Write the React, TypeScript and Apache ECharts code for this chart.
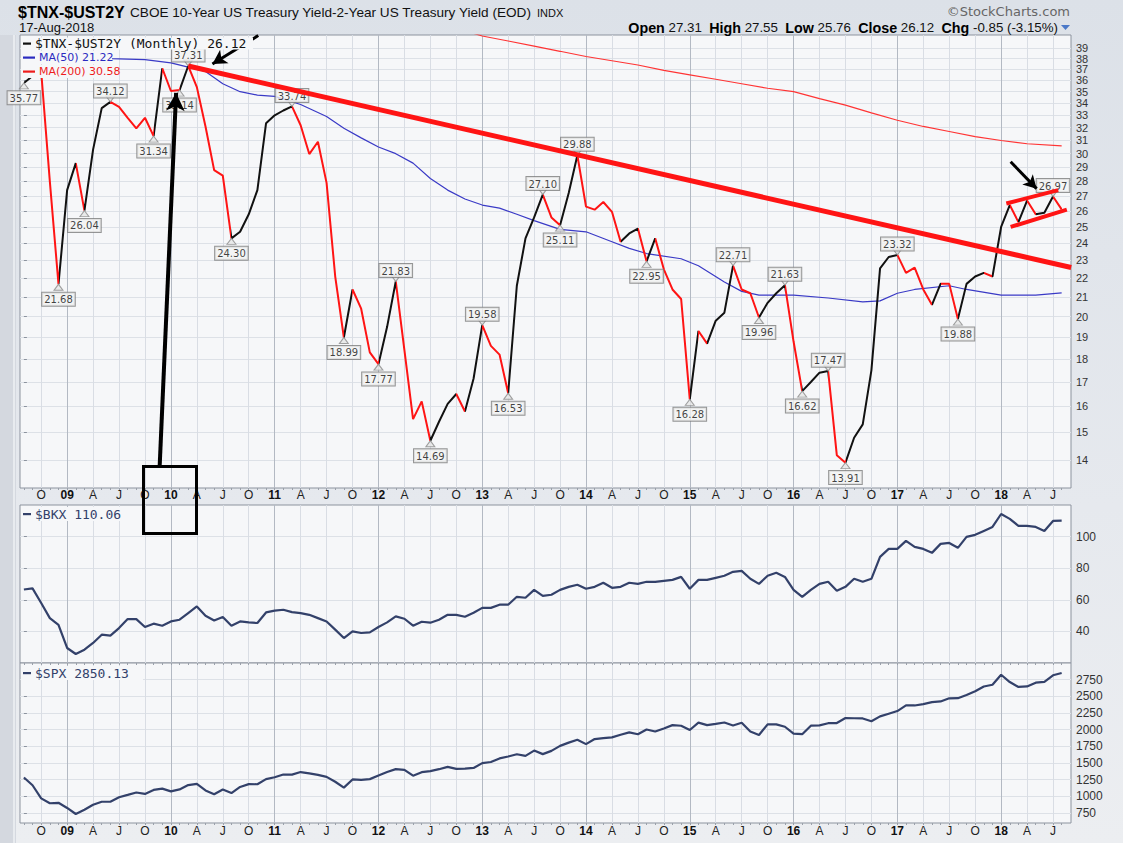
import React, { useEffect, useRef } from "react";
import * as echarts from "echarts";

// ---------------- data ----------------
const START_YEAR = 2008;
const START_MONTH = 7; // August (0-based), first monthly point
const MONTHS = 121;

// $TNX-$UST2Y monthly closes, Aug 2008 .. Aug 2018
const spread = [
  35.77, 36.4, 36.8, 28.0, 21.68, 27.4, 29.3, 26.04, 30.3, 33.6,
  34.12, 33.7, 32.8, 31.95, 32.8, 31.34, 37.1, 35.06, 35.14, 37.31,
  35.4, 32.1, 28.8, 28.4, 24.3, 24.7, 25.8, 27.4, 32.35, 33.0,
  33.4, 33.74, 32.2, 29.97, 30.9, 27.9, 22.1, 18.99, 21.4, 20.4,
  18.3, 17.77, 19.5, 21.83, 18.4, 15.5, 16.2, 14.69, 15.4, 16.1,
  16.5, 15.8, 17.15, 19.58, 18.6, 18.2, 16.53, 21.6, 24.3, 25.6,
  27.1, 25.6, 25.11, 27.2, 29.88, 26.3, 26.1, 26.6, 25.96, 24.1,
  24.6, 24.9, 22.95, 24.3, 22.5, 21.4, 20.9, 16.28, 19.3, 18.7,
  19.8, 20.2, 22.71, 21.4, 21.2, 19.96, 20.7, 21.2, 21.63, 18.8,
  16.62, 17.0, 17.4, 17.47, 14.17, 13.91, 14.8, 15.3, 17.5, 22.55,
  23.2, 23.32, 22.3, 22.6, 21.4, 20.6, 21.7, 21.7, 19.88, 21.7,
  22.1, 22.3, 22.1, 25.0, 26.4, 25.3, 26.7, 25.8, 25.9, 26.97,
  26.12,
];
// colour of each segment (k = black, r = red) as seen in the picture
const segmentColors = (
  "kkrrkkrkkk rrrrrkrrkr rrrrkkkkkk krrrrrrkrr rkkrrrrkkk " +
  "rkkrrrkkkk rrkkrrrrrk krkrrrrkrk kkrrrkkkrr kkkrrkkkkk " +
  "krrrrkrrkk krkkrkrkkr"
).replace(/\s/g, "");
const peaks = [10, 19, 31, 43, 53, 60, 64, 82, 88, 93, 101, 119];
const troughs = [0, 4, 7, 15, 18, 24, 37, 41, 47, 56, 62, 72, 77, 85, 90, 95, 108];

// moving averages, read at sample months [monthIndex, value]
const ma50 = [
  [0, 38.4], [5, 38.2], [10, 38.0], [14, 37.9], [17, 37.6], [19, 37.2], [21, 36.8],
  [23, 35.7], [25, 35.0], [27, 34.7], [29, 34.6], [32, 33.9], [35, 32.9], [37, 31.95],
  [39, 31.2], [41, 30.5], [43, 30.0], [45, 29.3], [47, 28.2], [49, 27.4], [51, 26.8],
  [53, 26.4], [55, 26.2], [57, 25.8], [59, 25.4], [62, 24.85], [65, 24.7], [68, 24.1],
  [70, 23.7], [72, 23.4], [76, 23.1], [78, 22.7], [81, 21.8], [83, 21.3], [85, 21.1],
  [89, 21.1], [93, 20.95], [97, 20.75], [99, 20.8], [101, 21.2], [103, 21.4],
  [107, 21.6], [109, 21.4], [113, 21.1], [117, 21.1], [120, 21.22],
];
const ma200 = [
  [50, 41.0], [53, 40.2], [56, 39.7], [59, 39.2], [62, 38.7], [65, 38.2], [68, 37.8],
  [71, 37.4], [74, 36.9], [77, 36.5], [80, 36.1], [83, 35.7], [86, 35.3], [89, 35.0],
  [92, 34.4], [95, 33.85], [98, 33.2], [101, 32.6], [104, 32.1], [107, 31.7],
  [110, 31.3], [113, 31.0], [116, 30.75], [120, 30.58],
];

// $BKX monthly closes
const bkx = [
  66.5, 67.2, 58.0, 48.4, 44.2, 29.5, 25.7, 28.4, 32.7, 37.9,
  37.3, 42.1, 47.8, 47.8, 42.8, 44.9, 43.6, 46.3, 47.4, 51.6,
  55.8, 49.9, 46.9, 49.1, 43.6, 46.3, 45.7, 45.3, 52.0, 53.1,
  53.7, 52.2, 51.6, 50.5, 48.4, 46.3, 41.1, 35.8, 40.0, 39.0,
  39.4, 42.8, 45.7, 49.5, 48.0, 43.6, 46.1, 45.5, 47.4, 50.5,
  50.5, 49.3, 51.8, 54.9, 54.9, 56.9, 56.9, 61.9, 61.3, 66.3,
  62.5, 63.2, 66.3, 68.2, 69.5, 67.0, 68.2, 70.8, 67.6, 68.2,
  70.8, 70.1, 71.4, 71.4, 72.0, 72.6, 74.5, 67.0, 72.6, 72.6,
  73.9, 75.2, 77.7, 78.3, 73.3, 70.1, 75.2, 77.1, 74.5, 66.3,
  61.9, 66.3, 70.1, 71.4, 65.7, 68.2, 73.3, 71.4, 73.3, 87.2,
  92.2, 92.2, 97.3, 93.5, 92.2, 89.7, 95.4, 96.0, 92.9, 99.8,
  101.1, 103.6, 106.1, 114.3, 111.2, 106.8, 106.8, 106.1, 103.6, 109.9,
  110.06,
];

// $SPX monthly closes
const spx = [
  1283, 1166, 969, 896, 903, 826, 735, 798, 873, 919,
  919, 987, 1021, 1057, 1036, 1096, 1115, 1074, 1104, 1169,
  1187, 1089, 1031, 1102, 1049, 1141, 1183, 1181, 1258, 1286,
  1327, 1326, 1364, 1345, 1321, 1292, 1219, 1131, 1253, 1247,
  1258, 1312, 1366, 1408, 1398, 1310, 1362, 1379, 1407, 1441,
  1412, 1416, 1426, 1498, 1515, 1569, 1598, 1631, 1606, 1686,
  1633, 1682, 1757, 1806, 1848, 1783, 1859, 1872, 1884, 1924,
  1960, 1931, 2003, 1972, 2018, 2068, 2059, 1995, 2105, 2068,
  2086, 2107, 2063, 2104, 1972, 1920, 2079, 2080, 2044, 1940,
  1932, 2060, 2065, 2097, 2099, 2174, 2171, 2168, 2126, 2199,
  2239, 2279, 2364, 2363, 2384, 2412, 2423, 2470, 2472, 2519,
  2575, 2648, 2674, 2824, 2714, 2641, 2648, 2705, 2718, 2816,
  2850.13,
];

const spreadTicks = [14, 15, 16, 17, 18, 19, 20, 21, 22, 23, 24, 25, 26, 27, 28, 29, 30, 31, 32, 33, 34, 35, 36, 37, 38, 39];
const bkxTicks = [40, 60, 80, 100];
const spxTicks = [750, 1000, 1250, 1500, 1750, 2000, 2250, 2500, 2750];

// hand-drawn annotations (month index, value)
const trendLine = [[19, 37.31], [121.1, 22.6]];
const channelUpper = [[113.6, 26.5], [119.6, 27.4]];
const channelLower = [[114.1, 25.0], [120.6, 26.1]];
const arrows = [
  { from: [27.1, 40.25], to: [21.8, 37.5], width: 3, head: [12, 14] },
  { from: [15.7, 13.79], to: [17.6, 34.9], width: 4, head: [14, 18] },
  { from: [114.1, 29.4], to: [117.1, 27.5], width: 3, head: [11, 13] },
];

// ---------------- styling ----------------
const RED = "#ff1414";
const BLACK = "#111111";
const NAVY = "#33416a";
const PLOT_BG = "#f6f7f9";
const GRID_LIGHT = "#d9dde4";
const GRID_DARK = "#b3b9c3";
const SANS = '"Liberation Sans", Arial, sans-serif';
const VERDANA = '"DejaVu Sans", Verdana, sans-serif';
const MONO = '"DejaVu Sans Mono", monospace';
const X_MIN = -0.45;
const X_MAX = 121.08;

function monthInfo(i: number) {
  const t = START_MONTH + i;
  return { m: t % 12, y: START_YEAR + Math.floor(t / 12) };
}
const allIdx = Array.from({ length: MONTHS }, (_, i) => i);
const quarterIdx = allIdx.filter((i) => monthInfo(i).m % 3 === 0);

function xLabel(v: number) {
  const { m, y } = monthInfo(Math.round(v));
  if (m === 0) return "{b|" + String(y % 100).padStart(2, "0") + "}";
  if (m === 3) return "A";
  if (m === 6) return "J";
  return "O";
}

const L = Math.log;

function buildOption(): any {
  const grids = [
    { left: 20, top: 35, width: 1051, height: 453 },
    { left: 20, top: 505, width: 1051, height: 158 },
    { left: 20, top: 663, width: 1051, height: 160 },
  ].map((g) => ({ ...g, show: true, backgroundColor: PLOT_BG, borderColor: "#8c939e", borderWidth: 1 }));

  const xAxes: any[] = [];
  [0, 1, 2].forEach((g) => {
    xAxes.push({
      type: "value", gridIndex: g, min: X_MIN, max: X_MAX, position: "bottom",
      axisLine: { show: false },
      axisTick: { show: false, customValues: quarterIdx },
      axisLabel: {
        show: g !== 1, customValues: quarterIdx, formatter: xLabel, margin: g === 0 ? 1 : 2,
        hideOverlap: false, color: "#222", fontSize: 12, fontFamily: SANS,
        rich: { b: { fontWeight: "bold", fontSize: 12, fontFamily: SANS, color: "#111" } },
      },
      splitLine: { show: true, lineStyle: { color: [GRID_LIGHT, GRID_DARK, GRID_LIGHT, GRID_LIGHT], width: 1 } },
    });
    xAxes.push({
      type: "value", gridIndex: g, min: X_MIN, max: X_MAX, position: "bottom",
      axisLine: { show: false }, axisLabel: { show: false }, splitLine: { show: false },
      axisTick: { show: true, customValues: allIdx, length: 2, inside: false, lineStyle: { color: "#9aa0aa" } },
    });
  });

  const yAxis = (
    g: number, tickVals: number[], labelVals: number[], min: number, max: number,
    fmt: (v: number) => string, fs: number, lines: boolean,
  ) => ({
    type: "value", gridIndex: g, position: "right", min, max,
    axisLine: { show: false },
    axisTick: { show: lines, customValues: tickVals, length: 3, inside: false, lineStyle: { color: "#8c939e" } },
    axisLabel: {
      customValues: labelVals, formatter: fmt, margin: 5, color: "#333", fontSize: fs, lineHeight: fs,
      fontFamily: SANS, hideOverlap: false, showMinLabel: true, showMaxLabel: true,
    },
    splitLine: { show: lines, lineStyle: { color: "#dde1e7", width: 1 } },
  });

  const spreadFmt = (v: number) => String(Math.round(Math.exp(v)));
  const evenTicks = spreadTicks.filter((t) => t % 2 === 0).map(L);
  const oddTicks = spreadTicks.filter((t) => t % 2 === 1).map(L);
  const yAxes = [
    yAxis(0, spreadTicks.map(L), evenTicks, L(13.06), L(40.3), spreadFmt, 11, true),
    yAxis(1, bkxTicks, bkxTicks, 20, 120, (v) => String(v), 12, true),
    yAxis(2, spxTicks, spxTicks, 600, 3000, (v) => String(v), 12, true),
    yAxis(0, oddTicks, oddTicks, L(13.06), L(40.3), spreadFmt, 11, false),
  ];

  const pieces = segmentColors.split("").map((c, i) => {
    const piece: any = { gte: i, color: c === "k" ? BLACK : RED };
    if (i === segmentColors.length - 1) piece.lte = i + 1;
    else piece.lt = i + 1;
    return piece;
  });

  const labelStyle = {
    show: true, distance: 0, fontSize: 10, fontFamily: VERDANA, color: "#111",
    backgroundColor: "#f3f3f3", borderColor: "#7c7c7c", borderWidth: 1, padding: [2, 2, 1, 2],
    offset: [0, 2],
    formatter: (p: any) => p.value[2].toFixed(2),
  };

  const series: any[] = [
    {
      name: "$TNX-$UST2Y", type: "line", xAxisIndex: 0, yAxisIndex: 0, z: 3,
      data: spread.map((v, i) => [i, L(v)]), symbol: "none", lineStyle: { width: 2 }, silent: true,
    },
    {
      name: "MA(50)", type: "line", xAxisIndex: 0, yAxisIndex: 0, z: 2, symbol: "none", silent: true,
      data: ma50.map(([i, v]) => [i, L(v)]), lineStyle: { width: 1.2, color: "#3a3ac6" }, itemStyle: { color: "#3a3ac6" },
    },
    {
      name: "MA(200)", type: "line", xAxisIndex: 0, yAxisIndex: 0, z: 2, symbol: "none", silent: true,
      data: ma200.map(([i, v]) => [i, L(v)]), lineStyle: { width: 1.2, color: "#ff3434" }, itemStyle: { color: "#ff3434" },
    },
    {
      name: "highs", type: "scatter", xAxisIndex: 0, yAxisIndex: 0, z: 4, silent: true,
      data: peaks.map((i) => [i, L(spread[i]), spread[i]]),
      symbol: "path://M0,0L10,0L5,7Z", symbolSize: [9, 6], symbolOffset: [0, -3],
      itemStyle: { color: "#e6e6e6", borderColor: "#8a8a8a", borderWidth: 1 },
      label: { ...labelStyle, position: "top" },
    },
    {
      name: "lows", type: "scatter", xAxisIndex: 0, yAxisIndex: 0, z: 4, silent: true,
      data: troughs.map((i) => [i, L(spread[i]), spread[i]]),
      symbol: "triangle", symbolSize: [9, 6], symbolOffset: [0, 3],
      itemStyle: { color: "#e6e6e6", borderColor: "#8a8a8a", borderWidth: 1 },
      label: { ...labelStyle, position: "bottom" },
    },
    {
      name: "trend", type: "line", xAxisIndex: 0, yAxisIndex: 0, z: 6, symbol: "none", silent: true,
      data: trendLine.map(([i, v]) => [i, L(v)]), lineStyle: { width: 5, color: RED }, itemStyle: { color: RED },
      markLine: {
        silent: true, animation: false, symbol: ["none", "arrow"], label: { show: false },
        emphasis: { disabled: true },
        data: arrows.map((a) => [
          { coord: [a.from[0], L(a.from[1])], symbol: "none", lineStyle: { color: "#000", width: a.width, type: "solid" } },
          { coord: [a.to[0], L(a.to[1])], symbol: "arrow", symbolSize: a.head, lineStyle: { color: "#000", width: a.width, type: "solid" }, itemStyle: { color: "#000" } },
        ]),
      },
    },
    {
      name: "channelUpper", type: "line", xAxisIndex: 0, yAxisIndex: 0, z: 6, symbol: "none", silent: true,
      data: channelUpper.map(([i, v]) => [i, L(v)]), lineStyle: { width: 4, color: RED }, itemStyle: { color: RED },
    },
    {
      name: "channelLower", type: "line", xAxisIndex: 0, yAxisIndex: 0, z: 6, symbol: "none", silent: true,
      data: channelLower.map(([i, v]) => [i, L(v)]), lineStyle: { width: 4, color: RED }, itemStyle: { color: RED },
    },
    {
      name: "$BKX", type: "line", xAxisIndex: 2, yAxisIndex: 1, symbol: "none", silent: true,
      data: bkx.map((v, i) => [i, v]), lineStyle: { width: 2.2, color: NAVY }, itemStyle: { color: NAVY },
    },
    {
      name: "$SPX", type: "line", xAxisIndex: 4, yAxisIndex: 2, symbol: "none", silent: true,
      data: spx.map((v, i) => [i, v]), lineStyle: { width: 2.2, color: NAVY }, itemStyle: { color: NAVY },
    },
  ];

  const txt = (x: number, y: number, text: string, font: string, fill: string, align = "left", extra: any = {}) => ({
    type: "text", x, y, z: 50, silent: true,
    style: { text, font, fill, align, verticalAlign: "middle", ...extra },
  });

  const legendRow = (x: number, y: number, w: number, h: number, color: string, text: string, font: string, dashW = 9) => [
    { type: "rect", z: 40, silent: true, shape: { x: x - 1, y: y - h / 2, width: w, height: h }, style: { fill: PLOT_BG } },
    { type: "rect", z: 41, silent: true, shape: { x: x + 1, y: y - 1, width: dashW, height: 2.2 }, style: { fill: color } },
    { type: "text", z: 42, silent: true, x: x + dashW + 5, y, style: { text, font, fill: color, align: "left", verticalAlign: "middle" } },
  ];

  const last = (arr: number[]) => arr[arr.length - 1];

  const graphic: any[] = [
    { type: "rect", z: 0, silent: true, shape: { x: 0, y: 35, width: 16, height: 808 }, style: { fill: "#d4d8df" } },
    { type: "rect", z: 0, silent: true, shape: { x: 13, y: 35, width: 2, height: 808 }, style: { fill: "#e8ebef" } },
    txt(18, 12, "$TNX-$UST2Y", "bold 16px " + SANS, "#000"),
    txt(130, 12, "CBOE 10-Year US Treasury Yield-2-Year US Treasury Yield (EOD)", "13.6px " + SANS, "#111"),
    txt(537, 13, "INDX", "11px " + SANS, "#111"),
    txt(19, 27.5, "17-Aug-2018", "13px " + SANS, "#111"),
    txt(1070, 11.5, "\u00A9StockCharts.com", "13px " + VERDANA, "#666", "right"),
    txt(1058, 27.5, "{b|Open} 27.31  {b|High} 27.55  {b|Low} 25.76  {b|Close} 26.12  {b|Chg} -0.85 (-3.15%)",
      "13.3px " + SANS, "#111", "right",
      { rich: { b: { fontWeight: "bold", fontSize: 14.3, fontFamily: SANS, fill: "#000" } } }),
    { type: "polygon", z: 50, silent: true, shape: { points: [[1061, 25], [1070, 25], [1065.5, 30]] }, style: { fill: "#4a78c8" } },
    ...legendRow(22, 43.5, 232, 12, BLACK, "$TNX-$UST2Y (Monthly) " + last(spread).toFixed(2), "13px " + MONO, 8),
    ...legendRow(22, 57.5, 91, 13, "#2a2ac0", "MA(50) " + ma50[ma50.length - 1][1].toFixed(2), "11px " + VERDANA, 12),
    ...legendRow(22, 71.5, 97, 13, "#ee1c1c", "MA(200) " + ma200[ma200.length - 1][1].toFixed(2), "11px " + VERDANA, 12),
    ...legendRow(22, 514, 108, 14, NAVY, "$BKX " + last(bkx).toFixed(2), "13px " + MONO, 8),
    ...legendRow(22, 673, 122, 14, NAVY, "$SPX " + last(spx).toFixed(2), "13px " + MONO, 8),
    { type: "rect", z: 100, silent: true, shape: { x: 143.5, y: 466.5, width: 53, height: 67 }, style: { fill: "none", stroke: "#000", lineWidth: 3 } },
  ];

  return {
    animation: false,
    backgroundColor: "transparent",
    grid: grids,
    xAxis: xAxes,
    yAxis: yAxes,
    visualMap: [{ type: "piecewise", show: false, dimension: 0, seriesIndex: 0, pieces }],
    series,
    graphic,
  };
}

export default function App() {
  const ref = useRef<HTMLDivElement>(null);
  useEffect(() => {
    if (!ref.current) return;
    const chart = echarts.init(ref.current, null, { renderer: "svg", width: 1123, height: 843 });
    chart.setOption(buildOption());
    return () => chart.dispose();
  }, []);
  return (
    <div
      ref={ref}
      style={{
        position: "absolute", left: 0, top: 0, width: 1123, height: 843,
        background: "linear-gradient(180deg, #dce1e8 0%, #e6e9ee 60%, #eceef1 100%)",
      }}
    />
  );
}
